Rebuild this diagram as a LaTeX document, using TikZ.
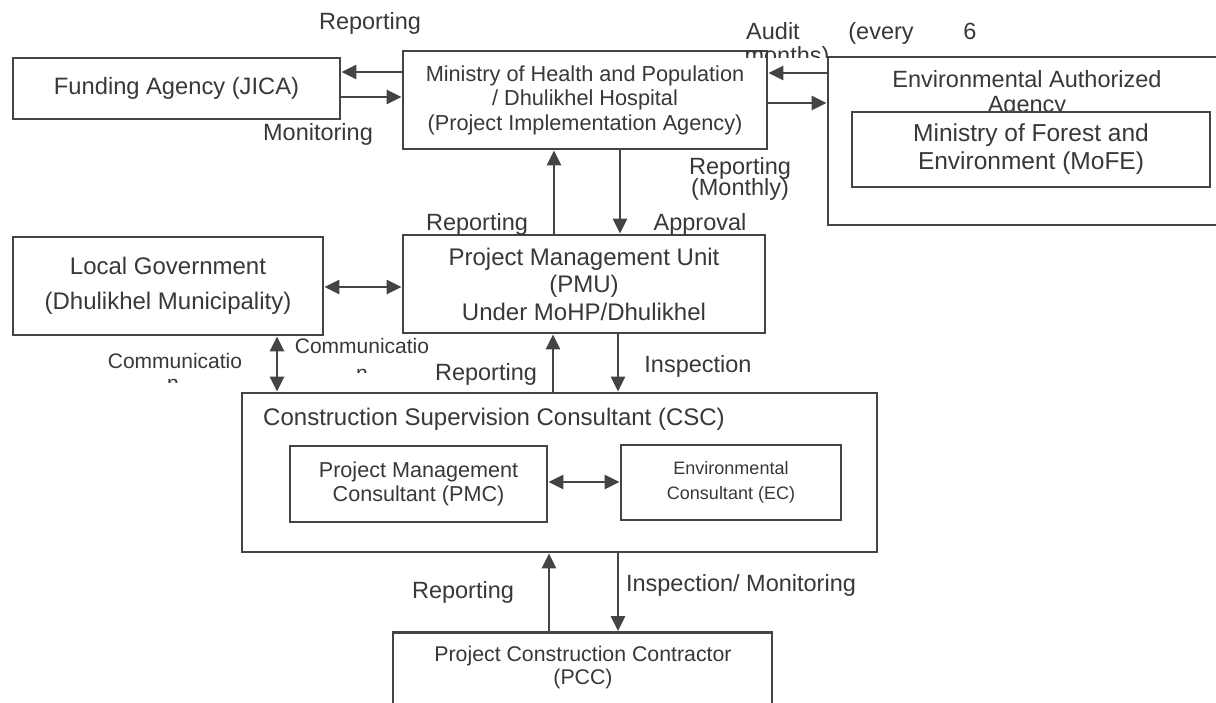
\documentclass[tikz,border=0pt]{standalone}
\usepackage{fontspec}
\setmainfont{Liberation Sans}
\usetikzlibrary{arrows.meta}
\definecolor{ink}{HTML}{383838}
\definecolor{rule}{HTML}{444444}
\begin{document}
\begin{tikzpicture}[x=1pt,y=-1pt,
  box/.style={draw=rule, line width=2.7pt, fill=white, inner sep=0pt, align=center, text=ink},
  lbl/.style={text=ink, inner sep=0pt, anchor=base, font=\fontsize{23.5}{25}\selectfont},
  conn/.style={draw=rule, line width=2.7pt, -{Triangle[length=15pt,width=14pt]}},
  conn2/.style={draw=rule, line width=2.7pt, {Triangle[length=15pt,width=14pt]}-{Triangle[length=15pt,width=14pt]}},
]
\useasboundingbox[fill=white] (0,0) rectangle (1216,703);

% ---- boxes ----
\node[box, minimum width=327pt, minimum height=61pt, font=\fontsize{23.7}{27}\selectfont]
  (fund) at (176.5,88.5) {Funding Agency (JICA)};
\node[box, minimum width=364pt, minimum height=98pt, font=\fontsize{21.7}{24.5}\selectfont]
  (min) at (585,100) {Ministry of Health and Population\\/ Dhulikhel Hospital\\(Project Implementation Agency)};
\node[box, minimum width=402pt, minimum height=168pt] (env) at (1029,141) {};
\node[lbl] (envt1) at (1027,88) {Environmental Authorized};
\node[lbl] (envt2) at (1027,113) {Agency};
\node[box, minimum width=358pt, minimum height=75pt, font=\fontsize{24.5}{28}\selectfont]
  (mofe) at (1031,149.5) {Ministry of Forest and\\Environment (MoFE)};
\node[box, minimum width=310pt, minimum height=98pt, font=\fontsize{24}{35}\selectfont]
  (loc) at (168,286) {Local Government\\(Dhulikhel Municipality)};
\node[box, minimum width=362pt, minimum height=98pt, font=\fontsize{24}{27.5}\selectfont]
  (pmu) at (584,284) {Project Management Unit\\(PMU)\\Under MoHP/Dhulikhel};
\node[box, minimum width=635pt, minimum height=159pt] (csc) at (559.5,472.5) {};
\node[lbl, font=\fontsize{24}{26}\selectfont] (csct) at (494,425) {Construction Supervision Consultant (CSC)};
\node[box, minimum width=257pt, minimum height=76pt, font=\fontsize{21.6}{24}\selectfont]
  (pmc) at (418.5,484) {Project Management\\Consultant (PMC)};
\node[box, minimum width=220pt, minimum height=75pt, font=\fontsize{18}{25}\selectfont]
  (ec) at (731,482.5) {Environmental\\Consultant (EC)};
\node[box, minimum width=379pt, minimum height=110pt, anchor=north] (pcc) at (582.5,631) {};
\node[text=ink, inner sep=0pt, align=center, font=\fontsize{21.3}{23}\selectfont]
  (pcct) at (583,667) {Project Construction Contractor\\(PCC)};

% ---- connectors ----
\draw[conn] (min.west |- 0,72) -- (fund.east |- 0,72);
\draw[conn] (fund.east |- 0,97) -- (min.west |- 0,97);
\draw[conn] (env.west |- 0,73) -- (min.east |- 0,73);
\draw[conn] (min.east |- 0,103) -- (env.west |- 0,103);
\draw[conn] (pmu.north -| 554,0) -- (min.south -| 554,0);
\draw[conn] (min.south -| 620,0) -- (pmu.north -| 620,0);
\draw[conn2] (loc.east |- 0,287) -- (pmu.west |- 0,287);
\draw[conn2] (loc.south -| 277,0) -- (csc.north -| 277,0);
\draw[conn] (csc.north -| 553,0) -- (pmu.south -| 553,0);
\draw[conn] (pmu.south -| 618,0) -- (csc.north -| 618,0);
\draw[conn2] (pmc.east |- 0,482) -- (ec.west |- 0,482);
\draw[conn] (pcc.north -| 549,0) -- (csc.south -| 549,0);
\draw[conn] (csc.south -| 618,0) -- (pcc.north -| 618,0);

% ---- connector labels ----
\node[lbl] (l1) at (370,30) {Reporting};
\node[lbl] (l2) at (318,141) {Monitoring};
\node[lbl] (l3) at (773,40) {Audit};
\node[lbl] (l4) at (881,40) {(every};
\node[lbl] (l5) at (970,40) {6};
\begin{scope}
  \clip (700,30) rectangle (845,58);
  \node[lbl] (l6) at (787,64) {months)};
\end{scope}
\node[lbl] (l7) at (740,175) {Reporting};
\node[lbl] (l8) at (740,196) {(Monthly)};
\node[lbl] (l9) at (477,231) {Reporting};
\node[lbl] (l10) at (700,231) {Approval};
\node[lbl, font=\fontsize{21}{23}\selectfont] (l11) at (362,354) {Communicatio};
\begin{scope}
  \clip (340,360) rectangle (385,373);
  \node[lbl, font=\fontsize{21}{23}\selectfont] (l12) at (362,381) {n};
\end{scope}
\node[lbl, font=\fontsize{21}{23}\selectfont] (l13) at (175,369) {Communicatio};
\begin{scope}
  \clip (150,372) rectangle (195,383);
  \node[lbl, font=\fontsize{21}{23}\selectfont] (l14) at (173,391) {n};
\end{scope}
\node[lbl] (l15) at (486,381) {Reporting};
\node[lbl] (l16) at (698,373) {Inspection};
\node[lbl] (l17) at (463,598) {Reporting};
\node[lbl] (l18) at (741,591) {Inspection/ Monitoring};
\end{tikzpicture}
\end{document}
